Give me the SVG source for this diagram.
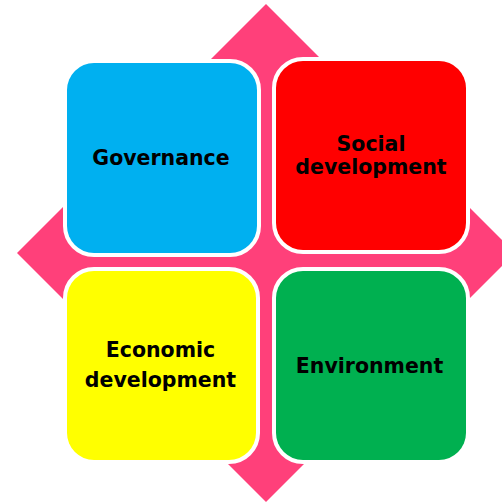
<svg xmlns="http://www.w3.org/2000/svg" width="502" height="503" viewBox="0 0 502 503">
  <style>
    .box { stroke: #ffffff; stroke-width: 8; paint-order: stroke; }
    .lbl { font-family: "DejaVu Sans", "Liberation Sans", sans-serif; font-weight: bold; font-size: 20.5px; fill: #000000; text-anchor: middle; }
  </style>
  <rect width="502" height="503" fill="#ffffff"/>
  <g id="connectors">
    <polygon id="four-way-arrow" points="266,4 515,253 266,502 17,253" fill="#FF407A"/>
  </g>
  <g id="governance">
    <rect class="box" x="67" y="63" width="190" height="190" rx="27" fill="#00B0F0"/>
    <text class="lbl" x="161" y="164.5">Governance</text>
  </g>
  <g id="social-development">
    <rect class="box" x="276" y="61" width="190" height="189" rx="27" fill="#FF0000"/>
    <text class="lbl" x="371" y="150.5">Social</text>
    <text class="lbl" x="371" y="173.5">development</text>
  </g>
  <g id="economic-development">
    <rect class="box" x="67" y="271" width="189" height="189" rx="27" fill="#FFFF00"/>
    <text class="lbl" x="160.5" y="356.5">Economic</text>
    <text class="lbl" x="160.5" y="386.5">development</text>
  </g>
  <g id="environment">
    <rect class="box" x="276" y="271" width="190" height="189" rx="27" fill="#00B050"/>
    <text class="lbl" x="369.5" y="372.5">Environment</text>
  </g>
</svg>
